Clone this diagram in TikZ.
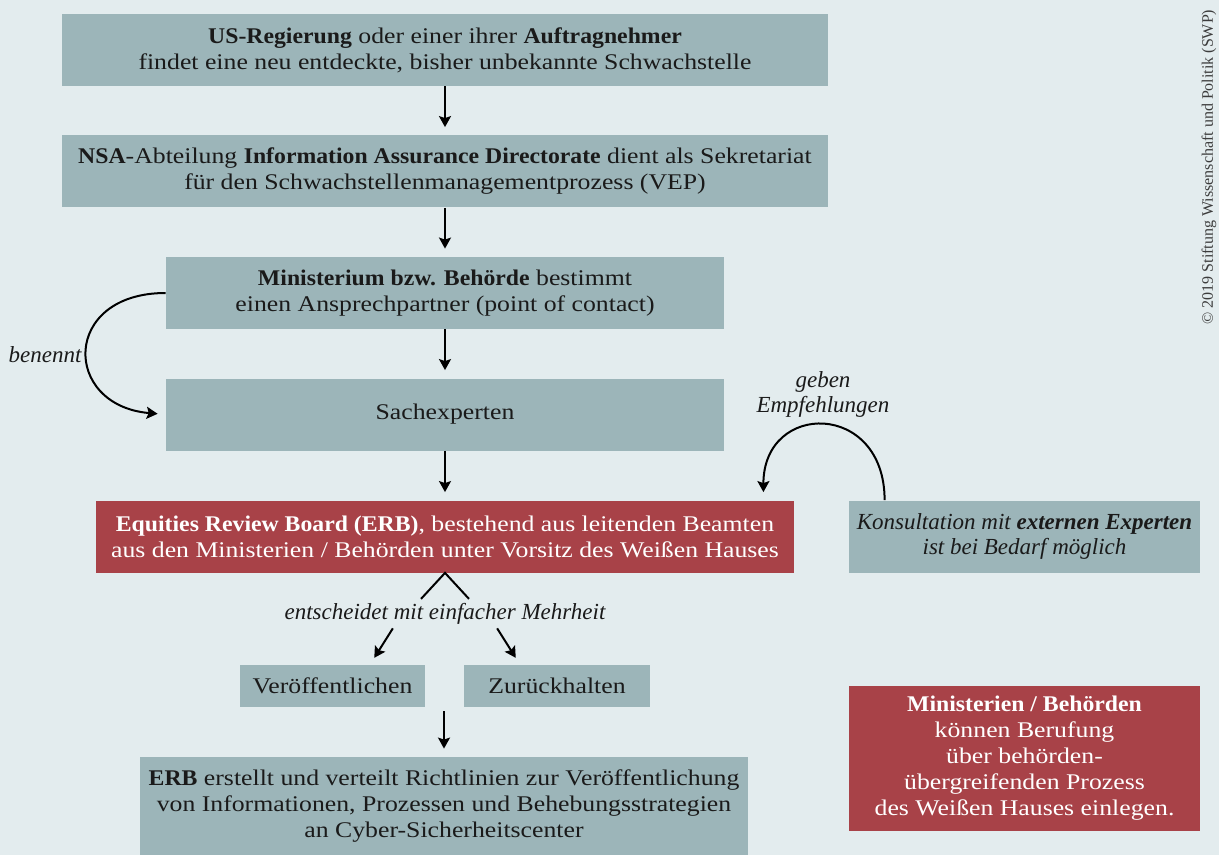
\documentclass[tikz,border=0pt]{standalone}
\usepackage{fontspec}
\setmainfont{Liberation Serif}[UprightFeatures={FakeStretch=1.15}, BoldFeatures={FakeStretch=1.06}]
\newfontfamily\notefont{Liberation Serif}
\usetikzlibrary{arrows.meta}
\definecolor{swpback}{HTML}{E3ECEE}
\definecolor{swpbox}{HTML}{9CB5B9}
\definecolor{swpred}{HTML}{A84248}
\definecolor{swptext}{HTML}{1A1A1A}
\begin{document}
\begin{tikzpicture}[
  x=0.5pt, y=-0.5pt,
  every node/.style={font=\fontsize{11.2}{13}\selectfont, text=swptext, align=center, inner sep=0pt},
  stepbox/.style={fill=swpbox, minimum height=36pt},
  redbox/.style={fill=swpred, text=white, minimum height=36pt},
  note/.style={font=\fontsize{11.5}{12.5}\selectfont\notefont\itshape},
  arr/.style={-{Stealth[length=5.5pt,width=6pt,inset=1pt]}, line width=1pt, shorten >=4pt},
]
\fill[swpback] (0,0) rectangle (1219,855);

% main chain
\node[stepbox, minimum width=383pt] (finder) at (445,50)
  {\textbf{US-Regierung} oder einer ihrer \textbf{Auftragnehmer}\\
   findet eine neu entdeckte, bisher unbekannte Schwachstelle};
\node[stepbox, minimum width=383pt] (nsa) at (445,171.5)
  {\textbf{NSA}-Abteilung \textbf{Information Assurance Directorate} dient als Sekretariat\\
   für den Schwachstellenmanagementprozess (VEP)};
\node[stepbox, minimum width=279pt] (ministry) at (445,293)
  {\textbf{Ministerium bzw. Behörde} bestimmt\\
   einen Ansprechpartner (point of contact)};
\node[stepbox, minimum width=279pt] (experts) at (445,414.5) {Sachexperten};
\node[redbox, minimum width=349pt] (erb) at (445,536.5)
  {\textbf{Equities Review Board (ERB)}, bestehend aus leitenden Beamten\\
   aus den Ministerien / Behörden unter Vorsitz des Weißen Hauses};
\node[stepbox, note, minimum width=175.5pt] (external) at (1024.5,536.5)
  {Konsultation mit \textbf{externen Experten}\\ ist bei Bedarf möglich};

% decision
\node[note] (decide) at (445,614) {entscheidet mit einfacher Mehrheit};
\node[stepbox, minimum width=92.5pt, minimum height=21pt] (publish) at (332.5,686) {Veröffentlichen};
\node[stepbox, minimum width=93pt, minimum height=21pt] (withhold) at (557,686) {Zurückhalten};
\node[stepbox, minimum width=304pt, minimum height=49pt] (final) at (444,806)
  {\textbf{ERB} erstellt und verteilt Richtlinien zur Veröffentlichung\\
   von Informationen, Prozessen und Behebungsstrategien\\
   an Cyber-Sicherheitscenter};
\node[redbox, minimum width=175.5pt, minimum height=72.5pt] (appeal) at (1024.5,758.5)
  {\textbf{Ministerien / Behörden}\\ können Berufung\\ über behörden-\\
   übergreifenden Prozess\\ des Weißen Hauses einlegen.};

% side labels
\node[note] (names) at (45,355) {benennt};
\node[note] (advicetext) at (823,394) {geben\\Empfehlungen};
\node[rotate=90, font=\fontsize{8}{9}\selectfont\notefont, text=swptext!85] (copyright) at (1209,167)
  {© 2019 Stiftung Wissenschaft und Politik (SWP)};

% connectors
\draw[arr] (finder) -- (nsa);
\draw[arr] (nsa) -- (ministry);
\draw[arr] (ministry) -- (experts);
\draw[arr] (experts) -- (erb);
\draw[arr] (ministry.west) to[out=180,in=175,looseness=2.2] (experts.west);
\draw[arr] ([xshift=18pt]external.north west) to[out=90,in=90,looseness=2.1] ([xshift=-15.5pt]erb.north east);
\draw[line width=1pt] ([xshift=-12pt,yshift=-13pt]erb.south) -- (erb.south) -- ([xshift=12pt,yshift=-13pt]erb.south);
\draw[arr, shorten <=2pt] ([xshift=-25pt]decide.south) -- ([xshift=18.75pt]publish.north);
\draw[arr, shorten <=2pt] ([xshift=25pt]decide.south) -- ([xshift=-18.5pt]withhold.north);
\draw[arr, shorten <=2pt] (final.north |- publish.south) -- (final.north);
\end{tikzpicture}
\end{document}
